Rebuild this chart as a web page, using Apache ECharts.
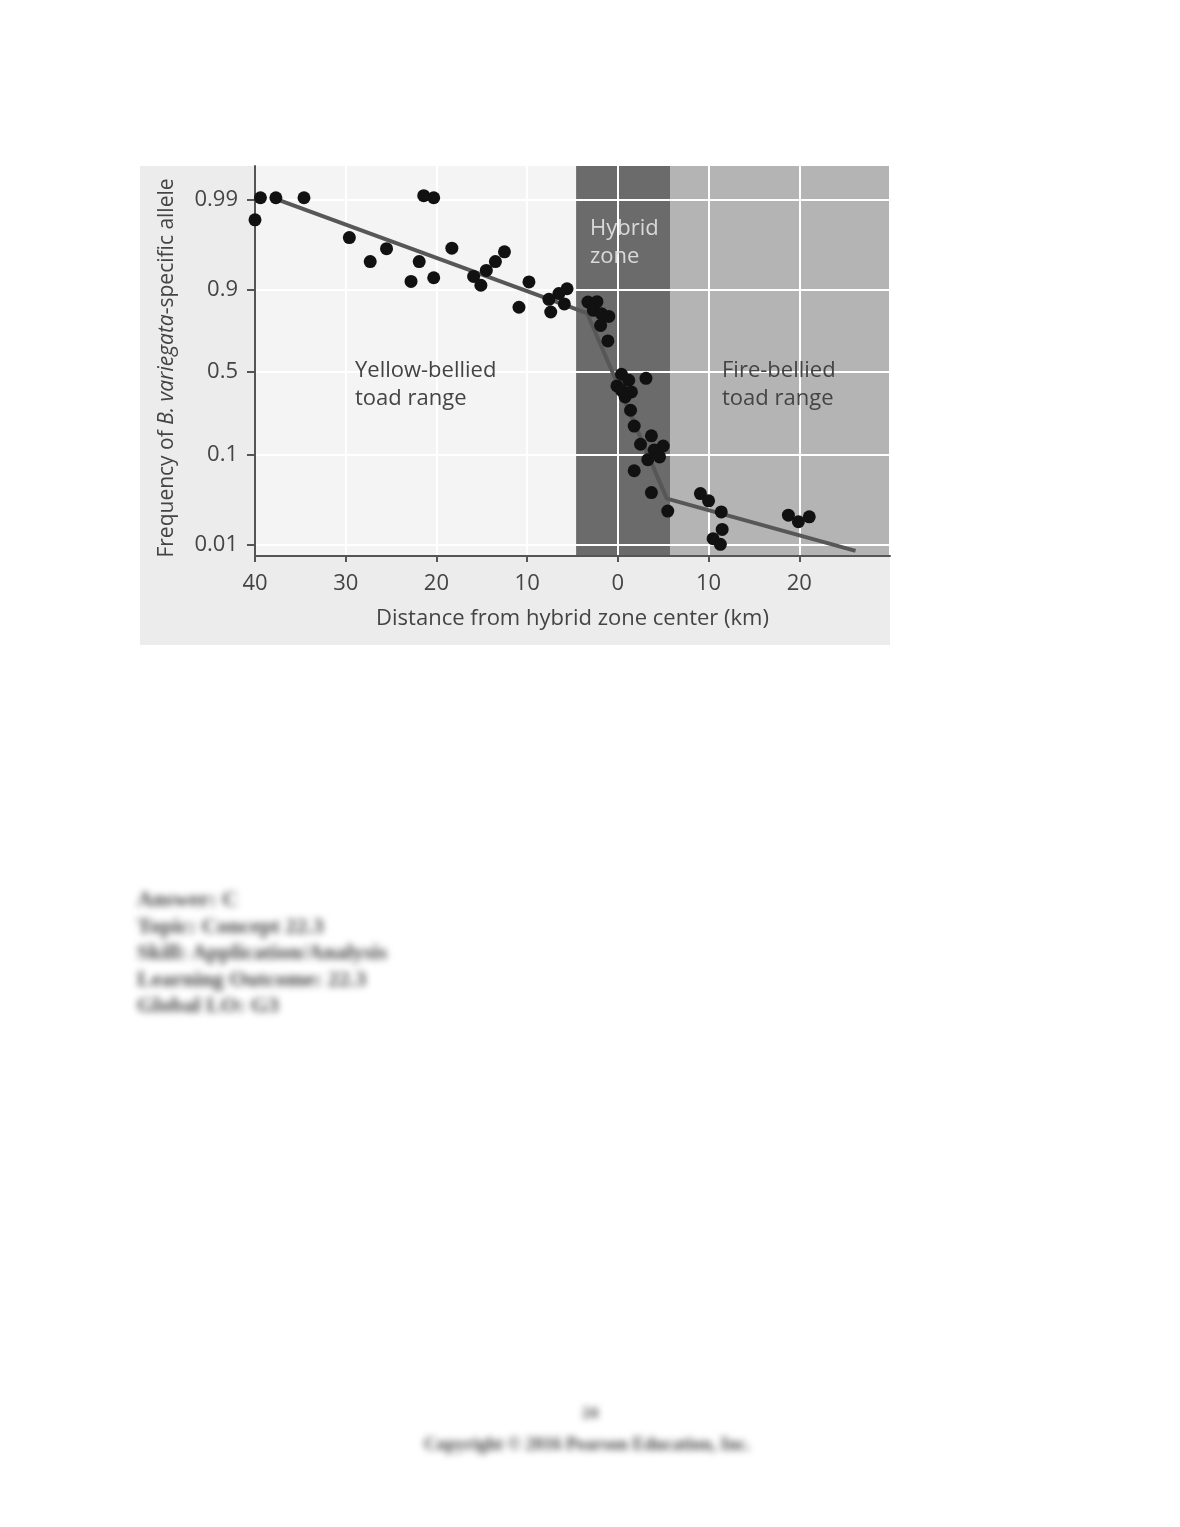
<!DOCTYPE html>
<html>
<head>
<meta charset="utf-8">
<script src="https://cdn.jsdelivr.net/npm/echarts@6/dist/echarts.min.js"></script>
<style>
  html, body { margin: 0; padding: 0; background: #fff; }
  #panel { position: absolute; left: 140px; top: 166px; width: 750px; height: 479px; background: #ececec; }
  #chart { position: absolute; left: 0; top: 0; width: 1180px; height: 1527px; }
  .blur { position: absolute; font-family: "Liberation Serif", serif; color: #444; font-weight: bold; filter: blur(3.5px); }
</style>
</head>
<body>
<div id="panel"></div>
<div id="chart"></div>
<div class="blur" style="left:137px;top:886px;font-size:22px;line-height:26.5px;">Answer: C<br>Topic: Concept 22.3<br>Skill: Application/Analysis<br>Learning Outcome: 22.3<br>Global LO: G3</div>
<div class="blur" style="left:0;width:1180px;text-align:center;top:1404px;font-size:16px;">24</div>
<div class="blur" style="left:0;width:1174px;text-align:center;top:1434px;font-size:18px;">Copyright © 2016 Pearson Education, Inc.</div>
<script>
// distance from hybrid zone center (km, negative = yellow-bellied side)
const distanceKm = [
  -40.0, -39.4, -37.7, -34.6, -29.6, -27.3, -25.5, -22.8, -21.9, -21.4,
  -20.3, -20.3, -18.3, -15.9, -15.1, -14.5, -13.5, -12.5, -10.9, -9.8,
  -7.6, -7.4, -6.5, -5.9, -5.6, -3.3, -2.3, -2.7, -1.8, -1.0,
  -1.9, -1.1, 0.4, 3.1, 1.2, -0.1, 1.5, 0.8, 0.4, 1.4,
  1.8, 3.7, 2.5, 5.0, 4.0, 3.3, 4.6, 1.8, 3.7, 5.5,
  9.1, 10.0, 11.4, 11.5, 10.5, 11.3, 18.8, 19.9, 21.1
];
// frequency of B. variegata-specific allele
const frequency = [
  0.983, 0.9905, 0.9905, 0.9905, 0.973, 0.950, 0.964, 0.918, 0.950, 0.991,
  0.9905, 0.925, 0.9645, 0.9275, 0.910, 0.9375, 0.950, 0.961, 0.849, 0.917,
  0.874, 0.832, 0.890, 0.860, 0.902, 0.866, 0.867, 0.838, 0.825, 0.815,
  0.776, 0.696, 0.485, 0.458, 0.445, 0.408, 0.370, 0.339, 0.380, 0.265,
  0.191, 0.154, 0.127, 0.122, 0.111, 0.088, 0.094, 0.067, 0.0386, 0.0239,
  0.0376, 0.0312, 0.0234, 0.0148, 0.0116, 0.0100, 0.0215, 0.0181, 0.0206
];
// fitted cline
const fitDistance = [-37.5, -3.4, 5.4, 26.2];
const fitFrequency = [0.99, 0.828, 0.033, 0.0084];

const yTicks = [0.01, 0.1, 0.5, 0.9, 0.99];
const yTickLabels = ['0.01', '0.1', '0.5', '0.9', '0.99'];

const zoneNames = ['Yellow-bellied', 'Hybrid', 'Fire-bellied'];
const zoneFrom = [-40, -4.6, 5.75];
const zoneTo = [-4.6, 5.75, 30];
const zoneColors = ['#f4f4f4', '#6b6b6b', '#b4b4b4'];

const logit = p => Math.log(p / (1 - p));
const FONT = '"Open Sans", "Noto Sans", sans-serif';
const tickPos = yTicks.map(logit);

const chart = echarts.init(document.getElementById('chart'), null, { renderer: 'canvas' });

chart.setOption({
  animation: false,
  textStyle: { fontFamily: FONT },
  grid: { left: 255, right: 290, top: 166, bottom: 971 },
  xAxis: {
    type: 'value',
    min: -40,
    max: 30,
    interval: 10,
    z: 1,
    name: 'Distance from hybrid zone center (km)',
    nameLocation: 'middle',
    nameGap: 52,
    nameTextStyle: { fontSize: 22, color: '#444', fontFamily: FONT },
    axisLine: { onZero: false, lineStyle: { color: '#555', width: 2 } },
    axisTick: { length: 6, lineStyle: { color: '#555', width: 2 } },
    axisLabel: {
      fontSize: 22, color: '#444', margin: 17, fontFamily: FONT,
      showMaxLabel: false,
      formatter: v => String(Math.abs(v))
    },
    splitLine: { show: true, lineStyle: { color: '#ffffff', width: 2 } }
  },
  yAxis: {
    type: 'value',
    min: -4.907,
    max: 5.493,
    z: 1,
    name: '{a|Frequency of }{i|B. variegata}{a|-specific allele}',
    nameLocation: 'middle',
    nameGap: 77,
    nameTextStyle: {
      padding: [0, 14, 0, 0],
      rich: {
        a: { fontSize: 21, color: '#444', fontFamily: FONT },
        i: { fontSize: 21, color: '#444', fontFamily: FONT, fontStyle: 'italic' }
      }
    },
    axisLine: { show: true, onZero: false, lineStyle: { color: '#555', width: 2 } },
    axisTick: { show: true, length: 8, customValues: tickPos, lineStyle: { color: '#555', width: 2 } },
    axisLabel: {
      fontSize: 22, color: '#444', margin: 17, fontFamily: FONT,
      customValues: tickPos,
      formatter: v => {
        let best = 0;
        tickPos.forEach((t, i) => { if (Math.abs(t - v) < Math.abs(tickPos[best] - v)) best = i; });
        return yTickLabels[best];
      }
    },
    splitLine: { show: false }
  },
  graphic: [
    {
      type: 'text', left: 355, top: 357, z: 10,
      style: { text: 'Yellow-bellied\ntoad range', fontSize: 22, lineHeight: 28, fill: '#444', fontFamily: FONT }
    },
    {
      type: 'text', left: 722, top: 357, z: 10,
      style: { text: 'Fire-bellied\ntoad range', fontSize: 22, lineHeight: 28, fill: '#444', fontFamily: FONT }
    },
    {
      type: 'text', left: 590, top: 215, z: 10,
      style: { text: 'Hybrid\nzone', fontSize: 22, lineHeight: 28, fill: '#d9d9d9', fontFamily: FONT }
    }
  ],
  series: [
    {
      name: 'zones',
      type: 'line',
      data: [],
      silent: true,
      markArea: {
        silent: true,
        z: -2,
        data: zoneNames.map((n, i) => [
          { name: n, xAxis: zoneFrom[i], itemStyle: { color: zoneColors[i], opacity: 1 } },
          { xAxis: zoneTo[i] }
        ]),
        label: { show: false }
      }
    },
    {
      name: 'grid',
      type: 'line',
      data: [],
      silent: true,
      markLine: {
        silent: true,
        z: 1,
        symbol: 'none',
        label: { show: false },
        lineStyle: { color: '#ffffff', width: 2, type: 'solid', opacity: 1 },
        data: tickPos.map(t => ({ yAxis: t }))
      }
    },
    {
      name: 'cline',
      type: 'line',
      z: 2,
      showSymbol: false,
      lineStyle: { color: '#575757', width: 4 },
      data: fitDistance.map((d, i) => [d, logit(fitFrequency[i])])
    },
    {
      name: 'samples',
      type: 'scatter',
      z: 3,
      symbolSize: 13,
      itemStyle: { color: '#111111', opacity: 1 },
      data: distanceKm.map((d, i) => [d, logit(frequency[i])])
    }
  ]
});
</script>
</body>
</html>
